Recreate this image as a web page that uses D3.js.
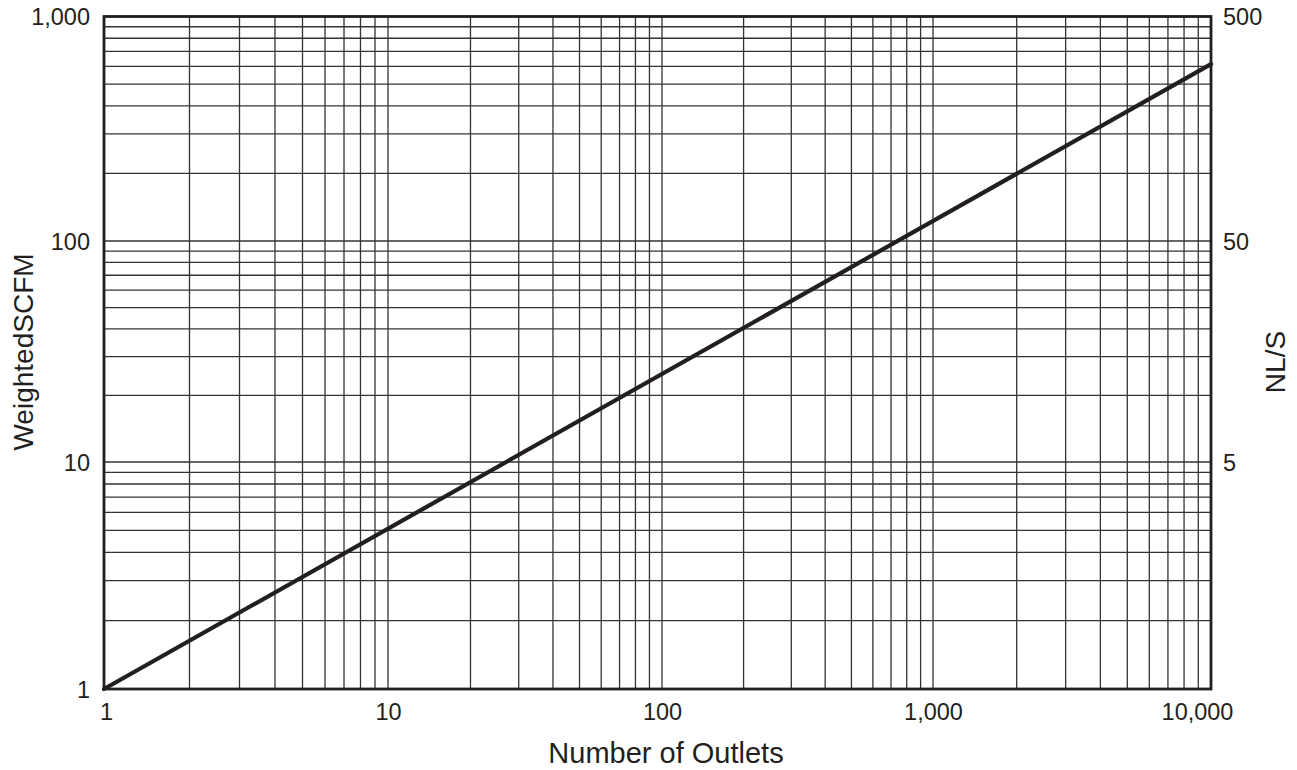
<!DOCTYPE html>
<html>
<head>
<meta charset="utf-8">
<script src="https://cdn.jsdelivr.net/npm/d3@7"></script>
<style>
  html, body { margin: 0; padding: 0; background: #fff; }
  svg { display: block; font-family: "Liberation Sans", Arial, Helvetica, sans-serif; }
</style>
</head>
<body>
<svg id="chart" width="1297" height="770"></svg>
<script>
// ---- data ----
const outlets = [1, 10000];          // Number of Outlets
const scfm = [1, 614];               // Weighted SCFM
const xTickValues = [1, 10, 100, 1000, 10000];
const xTickLabels = ["1", "10", "100", "1,000", "10,000"];
const yTickValues = [1, 10, 100, 1000];
const yTickLabels = ["1", "10", "100", "1,000"];
const y2TickValues = [5, 50, 500];
const y2TickLabels = ["5", "50", "500"];
const xTitle = "Number of Outlets";
const yTitle = "WeightedSCFM";
const y2Title = "NL/S";

// ---- layout ----
const svg = d3.select("#chart");
const L = 104, R = 1211, T = 16.5, B = 689;
const ink = "#231f20";

// piecewise log scales (match the printed decade positions)
const x = d3.scaleLog().domain([1, 10, 100, 1000, 10000]).range([L, 388, 662, 933, R]);
const y = d3.scaleLog().domain([1, 10, 100, 1000]).range([B, 462, 241, T]);
const y2 = d3.scaleLog().domain([0.5, 5, 50, 500]).range([B, 462, 241, T]);

// grid
const xGrid = x.ticks();
const yGrid = y.ticks();
const g = svg.append("g");
g.selectAll("line.vg").data(xGrid).join("line")
  .attr("class", "vg")
  .attr("x1", d => x(d)).attr("x2", d => x(d))
  .attr("y1", T).attr("y2", B)
  .attr("stroke", "#333").attr("stroke-width", 1.3);
g.selectAll("line.hg").data(yGrid).join("line")
  .attr("class", "hg")
  .attr("y1", d => y(d)).attr("y2", d => y(d))
  .attr("x1", L).attr("x2", R)
  .attr("stroke", "#333").attr("stroke-width", 1.3);

// frame
svg.append("rect")
  .attr("x", L).attr("y", T).attr("width", R - L).attr("height", B - T)
  .attr("fill", "none").attr("stroke", ink).attr("stroke-width", 2.8);

// data line
const pts = outlets.map((o, i) => [o, scfm[i]]);
svg.append("path")
  .datum(pts)
  .attr("d", d3.line().x(d => x(d[0])).y(d => y(d[1])))
  .attr("fill", "none").attr("stroke", ink).attr("stroke-width", 4.2)
  .attr("stroke-linecap", "round");

// axes (labels only)
const fs = 23.5;
const xAxis = d3.axisBottom(x).tickValues(xTickValues)
  .tickFormat((d, i) => xTickLabels[i]).tickSize(0).tickPadding(0);
const gx = svg.append("g").attr("transform", `translate(0,${B})`).call(xAxis);
gx.select(".domain").remove();
gx.selectAll("text").attr("font-size", fs).attr("fill", ink)
  .attr("font-family", "Liberation Sans, Arial, sans-serif")
  .attr("dy", null).attr("y", 31)
  .attr("dx", (d, i) => i === xTickValues.length - 1 ? -14 : (i === 0 ? 2 : 0));

const yAxis = d3.axisLeft(y).tickValues(yTickValues)
  .tickFormat((d, i) => yTickLabels[i]).tickSize(0).tickPadding(14);
const gy = svg.append("g").attr("transform", `translate(${L},0)`).call(yAxis);
gy.select(".domain").remove();
gy.selectAll("text").attr("font-size", fs).attr("fill", ink)
  .attr("font-family", "Liberation Sans, Arial, sans-serif")
  .attr("dy", "0.36em");

const y2Axis = d3.axisRight(y2).tickValues(y2TickValues)
  .tickFormat((d, i) => y2TickLabels[i]).tickSize(0).tickPadding(12);
const gy2 = svg.append("g").attr("transform", `translate(${R},0)`).call(y2Axis);
gy2.select(".domain").remove();
gy2.selectAll("text").attr("font-size", fs).attr("fill", ink)
  .attr("font-family", "Liberation Sans, Arial, sans-serif")
  .attr("dy", "0.36em");

// titles
svg.append("text").text(xTitle)
  .attr("x", 666).attr("y", 763)
  .attr("text-anchor", "middle").attr("font-size", 29).attr("fill", ink);
svg.append("text").text(yTitle)
  .attr("transform", "translate(33,352) rotate(-90)")
  .attr("text-anchor", "middle").attr("font-size", 28).attr("fill", ink);
svg.append("text").text(y2Title)
  .attr("transform", "translate(1285,362) rotate(-90)")
  .attr("text-anchor", "middle").attr("font-size", 28).attr("fill", ink);
</script>
</body>
</html>
